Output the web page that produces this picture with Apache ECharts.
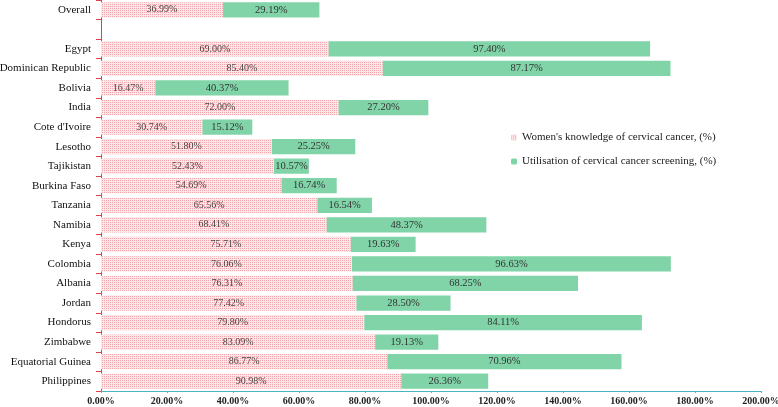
<!DOCTYPE html>
<html><head><meta charset="utf-8">
<script src="https://cdn.jsdelivr.net/npm/echarts@6/dist/echarts.min.js"></script>
<style>html,body{margin:0;padding:0;background:#fff;}#c{width:778px;height:407px;}</style>
</head><body><div id="c"></div>
<script>
var categories = ["Overall", "", "Egypt", "Dominican Republic", "Bolivia", "India", "Cote d'Ivoire", "Lesotho", "Tajikistan", "Burkina Faso", "Tanzania", "Namibia", "Kenya", "Colombia", "Albania", "Jordan", "Hondorus", "Zimbabwe", "Equatorial Guinea", "Philippines"];
var knowledge = [36.99, null, 69.00, 85.40, 16.47, 72.00, 30.74, 51.80, 52.43, 54.69, 65.56, 68.41, 75.71, 76.06, 76.31, 77.42, 79.80, 83.09, 86.77, 90.98];
var screening = [29.19, null, 97.40, 87.17, 40.37, 27.20, 15.12, 25.25, 10.57, 16.74, 16.54, 48.37, 19.63, 96.63, 68.25, 28.50, 84.11, 19.13, 70.96, 26.36];
var xTicks = [0, 20, 40, 60, 80, 100, 120, 140, 160, 180, 200];
var seriesNames = ["Women's knowledge of cervical cancer, (%)", "Utilisation of cervical cancer screening, (%)"];

var cv = document.createElement('canvas');
cv.width = 2; cv.height = 2;
var cx = cv.getContext('2d');
cx.fillStyle = '#fde6e8'; cx.fillRect(0, 0, 2, 2);
cx.fillStyle = '#f2a7ae'; cx.fillRect(0, 0, 1, 1);

var serif = '"Liberation Serif", "DejaVu Serif", serif';
var chart = echarts.init(document.getElementById('c'));
chart.setOption({
  animation: false,
  grid: { left: 101, right: 17, top: 0, bottom: 16, containLabel: false, outerBoundsMode: 'none' },
  legend: {
    orient: 'vertical', left: 506, top: 127, itemWidth: 6, itemHeight: 6, itemGap: 13,
    textStyle: { fontFamily: serif, fontSize: 11, color: '#222' },
    data: seriesNames
  },
  xAxis: {
    type: 'value', min: xTicks[0], max: xTicks[xTicks.length - 1], interval: xTicks[1] - xTicks[0],
    axisLine: { show: true, lineStyle: { color: '#4bb3c8', width: 1 } },
    axisTick: { show: true, length: 2, lineStyle: { color: '#4bb3c8' } },
    splitLine: { show: false },
    axisLabel: { fontFamily: serif, fontSize: 10, fontWeight: 'bold', color: '#222', margin: 5,
      formatter: function (v) { return v.toFixed(2) + '%'; } }
  },
  yAxis: {
    type: 'category', data: categories, inverse: true,
    axisLine: { show: true, lineStyle: { color: '#e0404a', width: 1 } },
    axisTick: { show: true, length: 5, lineStyle: { color: '#e0404a' } },
    axisLabel: { fontFamily: serif, fontSize: 11, color: '#111', margin: 10 }
  },
  series: [
    { name: seriesNames[0], type: 'bar', stack: 's', data: knowledge, barCategoryGap: '22%',
      itemStyle: { color: { image: cv, repeat: 'repeat' } },
      label: { show: true, position: 'inside', fontFamily: serif, fontSize: 10, color: '#444',
        formatter: function (p) { return p.value.toFixed(2) + '%'; } } },
    { name: seriesNames[1], type: 'bar', stack: 's', data: screening, barCategoryGap: '22%',
      itemStyle: { color: '#80d4a8' },
      label: { show: true, position: 'inside', fontFamily: serif, fontSize: 10.5, color: '#333',
        formatter: function (p) { return p.value.toFixed(2) + '%'; } } }
  ]
});
</script></body></html>
